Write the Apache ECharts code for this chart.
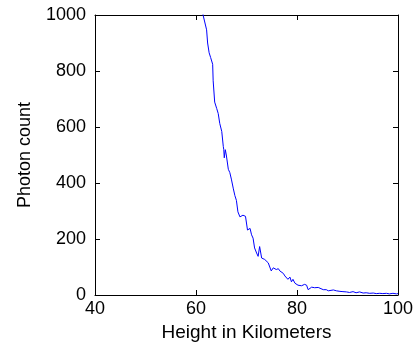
<!doctype html>
<html lang="en">
<head>
    <meta charset="utf-8">
    <title>Photon count vs height</title>
    <script src="https://cdn.jsdelivr.net/npm/echarts@6/dist/echarts.min.js"></script>
    <style>
        html, body { margin: 0; padding: 0; background: #fff; }
        #chart { width: 418px; height: 347px; }
    </style>
</head>
<body>
    <div id="chart"></div>
    <script type="text/javascript">
        // height in km
        var heights = [61.0, 61.4, 62.1, 62.3, 62.6, 62.9, 63.3, 63.4, 63.6, 63.7, 64.1, 64.4, 64.7, 65.1, 65.4, 65.5,
            65.6, 65.8, 66.0, 66.4, 66.7, 67.0, 67.4, 67.7, 68.0, 68.3, 68.7, 69.0, 69.3, 69.8, 70.2,
            70.7, 71.0, 71.3, 71.6, 72.0, 72.3, 72.6, 73.0, 73.3, 73.6, 73.9, 74.3, 74.6, 74.9, 75.3,
            75.6, 75.9, 76.3, 76.6, 76.9, 77.3, 77.6, 77.9, 78.2, 78.6, 78.9, 79.2, 79.6, 80.2, 80.9,
            81.5, 81.9, 82.2, 82.5, 82.9, 83.2, 83.5, 83.8, 84.2, 84.5, 85.2, 85.5, 85.8, 86.2, 86.5,
            87.2, 87.8, 88.5, 89.1, 89.8, 90.4, 91.1, 91.7, 92.4, 93.1, 93.7, 94.4, 95.1, 95.7, 96.4,
            97.0, 97.7, 98.3, 99.0, 99.7, 100.0];
        // photon counts
        var counts = [1060, 1000, 947, 900, 865, 848, 824, 765, 760, 689, 666, 648, 613, 584, 531, 519,
            490, 519, 500, 449, 437, 414, 379, 355, 338, 297, 279, 273, 285, 281, 232,
            238, 215, 203, 168, 150, 138, 173, 132, 138, 127, 132, 115, 109, 86, 97,
            101, 91, 94, 86, 89, 77, 68, 70, 56, 64, 47, 56, 42, 35, 33,
            38, 35, 19, 23, 28, 21, 26, 23, 27, 21, 19, 14, 19, 15, 19,
            18, 15, 13, 12, 11, 9, 12, 8, 11, 7, 8, 6, 7, 5, 6,
            5, 6, 4, 6, 4, 5];
        var xTicks = [40, 60, 80, 100];
        var yTicks = [0, 200, 400, 600, 800, 1000];

        var points = heights.map(function (h, i) { return [h, counts[i]]; });

        var font = 'Liberation Sans, Arial, sans-serif';
        var frame = { show: true, onZero: false, lineStyle: { color: '#000', width: 1 } };
        var tick = { show: true, inside: true, length: 5, lineStyle: { color: '#000' } };
        var plain = function (v) { return String(v); };

        var myChart = echarts.init(document.getElementById('chart'));
        var option = {
            animation: false,
            grid: { left: 95, right: 20, top: 15, bottom: 48 },
            xAxis: [
                {
                    type: 'value',
                    min: xTicks[0], max: xTicks[xTicks.length - 1], interval: 20,
                    name: 'Height in Kilometers',
                    nameLocation: 'middle',
                    nameGap: 28,
                    nameTextStyle: { color: '#000', fontSize: 19, fontFamily: font },
                    axisLine: frame, axisTick: tick,
                    axisLabel: { color: '#000', fontSize: 18, fontFamily: font, margin: 5, formatter: plain },
                    splitLine: { show: false }
                },
                {
                    type: 'value', position: 'top',
                    min: xTicks[0], max: xTicks[xTicks.length - 1], interval: 20,
                    axisLine: frame, axisTick: tick,
                    axisLabel: { show: false }, splitLine: { show: false }
                }
            ],
            yAxis: [
                {
                    type: 'value',
                    min: yTicks[0], max: yTicks[yTicks.length - 1], interval: 200,
                    name: 'Photon count',
                    nameLocation: 'middle',
                    nameGap: 61,
                    nameTextStyle: { color: '#000', fontSize: 18, fontFamily: font },
                    axisLine: frame, axisTick: tick,
                    axisLabel: { color: '#000', fontSize: 18, fontFamily: font, margin: 9, formatter: plain },
                    splitLine: { show: false }
                },
                {
                    type: 'value', position: 'right',
                    min: yTicks[0], max: yTicks[yTicks.length - 1], interval: 200,
                    axisLine: frame, axisTick: tick,
                    axisLabel: { show: false }, splitLine: { show: false }
                }
            ],
            series: [
                {
                    type: 'line',
                    data: points,
                    showSymbol: false,
                    clip: true,
                    lineStyle: { color: '#0000ff', width: 1 }
                }
            ]
        };
        myChart.setOption(option);
    </script>
</body>
</html>
